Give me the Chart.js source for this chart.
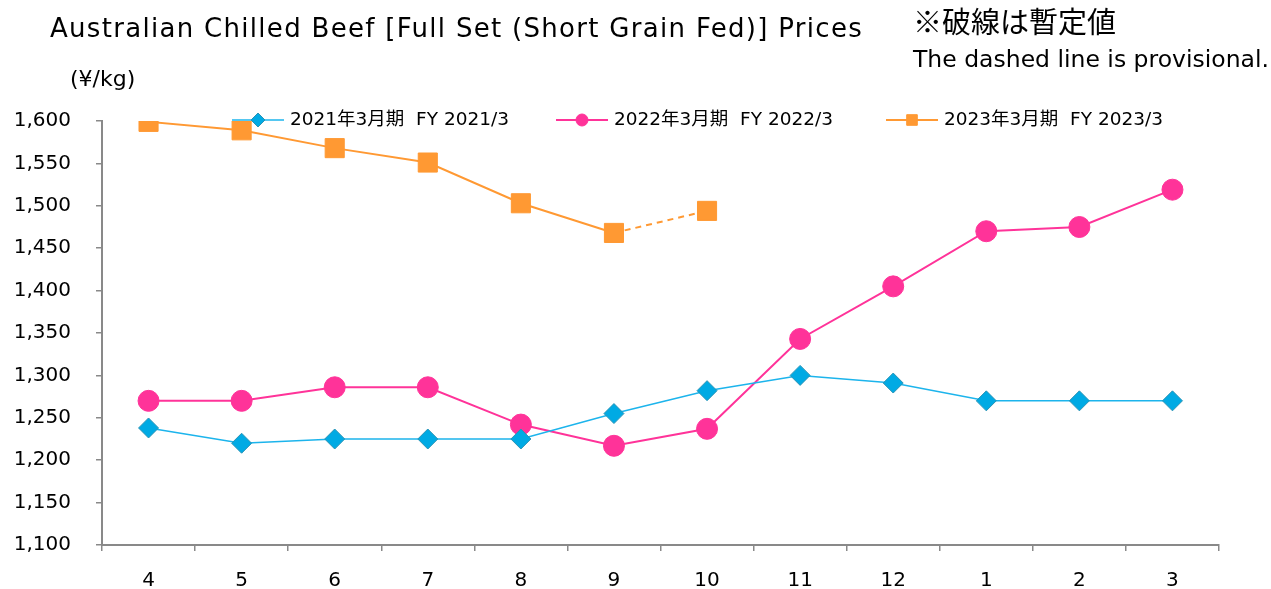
<!DOCTYPE html>
<html>
<head>
<meta charset="utf-8">
<script src="https://cdn.jsdelivr.net/npm/chart.js@4"></script>
<style>
  html, body { margin: 0; padding: 0; background: #fff; }
  #wrap { position: relative; width: 1271px; height: 589px; }
  .txt { position: absolute; font-family: "DejaVu Sans", "Noto Sans CJK JP", sans-serif; color: #000; white-space: nowrap; line-height: 1.2; }
</style>
</head>
<body>
<div id="wrap">
  <canvas id="myChart" width="1271" height="589"></canvas>
  <div class="txt" style="left:50px; top:13px; font-size:26px; letter-spacing:1.3px;">Australian Chilled Beef [Full Set (Short Grain Fed)] Prices</div>
  <div class="txt" style="left:913px; top:3px; font-size:29px; font-family:'Noto Sans CJK JP';">※破線は暫定値</div>
  <div class="txt" style="left:913px; top:45px; font-size:23.5px;">The dashed line is provisional.</div>
  <div class="txt" style="left:70px; top:66px; font-size:22px;">(¥/kg)</div>
</div>
<script>
// months of the fiscal year (April .. March)
const months = ['4','5','6','7','8','9','10','11','12','1','2','3'];

// prices, yen per kg
const fy2021 = [1238,1220,1225,1225,1225,1255,1282,1300,1291,1270,1270,1270];
const fy2022 = [1270,1270,1286,1286,1242,1217,1237,1343,1405,1470,1475,1519];
const fy2023 = [1599,1589,1568,1551,1503,1468,1494];

// true = provisional value (drawn with a dashed segment)
const fy2023Provisional = [false,false,false,false,false,false,true];

const seriesNames = ['2021年3月期  FY 2021/3','2022年3月期  FY 2022/3','2023年3月期  FY 2023/3'];

const yMin = 1100, yMax = 1600, yStep = 50;

const FONT = '"DejaVu Sans", "Noto Sans CJK JP", sans-serif';
const AXIS = '#898989';

// legend placed inside the plot, drawn like the original (line + marker + text)
const legendX = [232, 556, 886];
const innerLegend = {
  id: 'innerLegend',
  afterDraw(chart){
    const ctx = chart.ctx;
    const y = 120;
    chart.data.datasets.forEach((ds, i) => {
      const x = legendX[i];
      ctx.save();
      ctx.strokeStyle = ds.borderColor;
      ctx.lineWidth = ds.borderWidth;
      ctx.beginPath();
      ctx.moveTo(x, y);
      ctx.lineTo(x + 52, y);
      ctx.stroke();
      ctx.fillStyle = ds.pointBackgroundColor;
      ctx.strokeStyle = ds.pointBorderColor;
      ctx.lineWidth = 1;
      Chart.helpers.drawPoint(ctx, {pointStyle: ds.pointStyle, radius: ds.legendRadius, borderWidth: 1}, x + 26, y);
      ctx.fillStyle = '#000';
      ctx.font = '18.5px ' + FONT;
      ctx.textBaseline = 'middle';
      ctx.fillText(ds.label, x + 58, y);
      ctx.restore();
    });
  }
};

const data = {
  labels: months,
  datasets: [{
    label: seriesNames[0],
    data: fy2021,
    borderColor: '#1CB4EC',
    borderWidth: 1.5,
    pointStyle: 'rectRot',
    pointRadius: 10,
    pointHoverRadius: 10,
    pointBackgroundColor: '#00AAE4',
    pointBorderColor: '#2A93B5',
    pointBorderWidth: 1,
    legendRadius: 7
  },{
    label: seriesNames[1],
    data: fy2022,
    borderColor: '#FF3399',
    borderWidth: 2,
    pointStyle: 'circle',
    pointRadius: 10.5,
    pointHoverRadius: 10.5,
    pointBackgroundColor: '#FF3399',
    pointBorderColor: '#FF3399',
    pointBorderWidth: 1,
    legendRadius: 6
  },{
    label: seriesNames[2],
    data: fy2023,
    borderColor: '#FF9933',
    borderWidth: 2,
    pointStyle: 'rect',
    pointRadius: 13.5,
    pointHoverRadius: 13.5,
    pointBackgroundColor: '#FF9933',
    pointBorderColor: '#FF9933',
    pointBorderWidth: 1,
    legendRadius: 7.5,
    segment: {
      borderDash: ctx => fy2023Provisional[ctx.p1DataIndex] ? [6, 5] : undefined
    }
  }]
};

const config = {
  type: 'line',
  data: data,
  options: {
    responsive: false,
    animation: false,
    layout: { padding: { top: 121, right: 52, left: 0, bottom: 0 } },
    plugins: {
      legend: { display: false },
      tooltip: { enabled: false }
    },
    scales: {
      x: {
        offset: true,
        grid: { offset: true, drawOnChartArea: false, color: AXIS, tickLength: 6, lineWidth: 1.5 },
        border: { color: AXIS, width: 2 },
        ticks: { color: '#000', font: { family: FONT, size: 20 }, padding: 18 },
        afterFit: s => { s.height = 44; }
      },
      y: {
        min: yMin,
        max: yMax,
        grid: { drawOnChartArea: false, color: AXIS, tickLength: 6, lineWidth: 1.5 },
        border: { color: AXIS, width: 2 },
        ticks: {
          stepSize: yStep,
          color: '#000',
          font: { family: FONT, size: 20 },
          padding: 25,
          callback: v => v.toLocaleString('en-US')
        },
        afterFit: s => { s.width = 102; }
      }
    }
  },
  plugins: [innerLegend]
};

let myChart = new Chart(document.getElementById('myChart'), config);
</script>
</body>
</html>
